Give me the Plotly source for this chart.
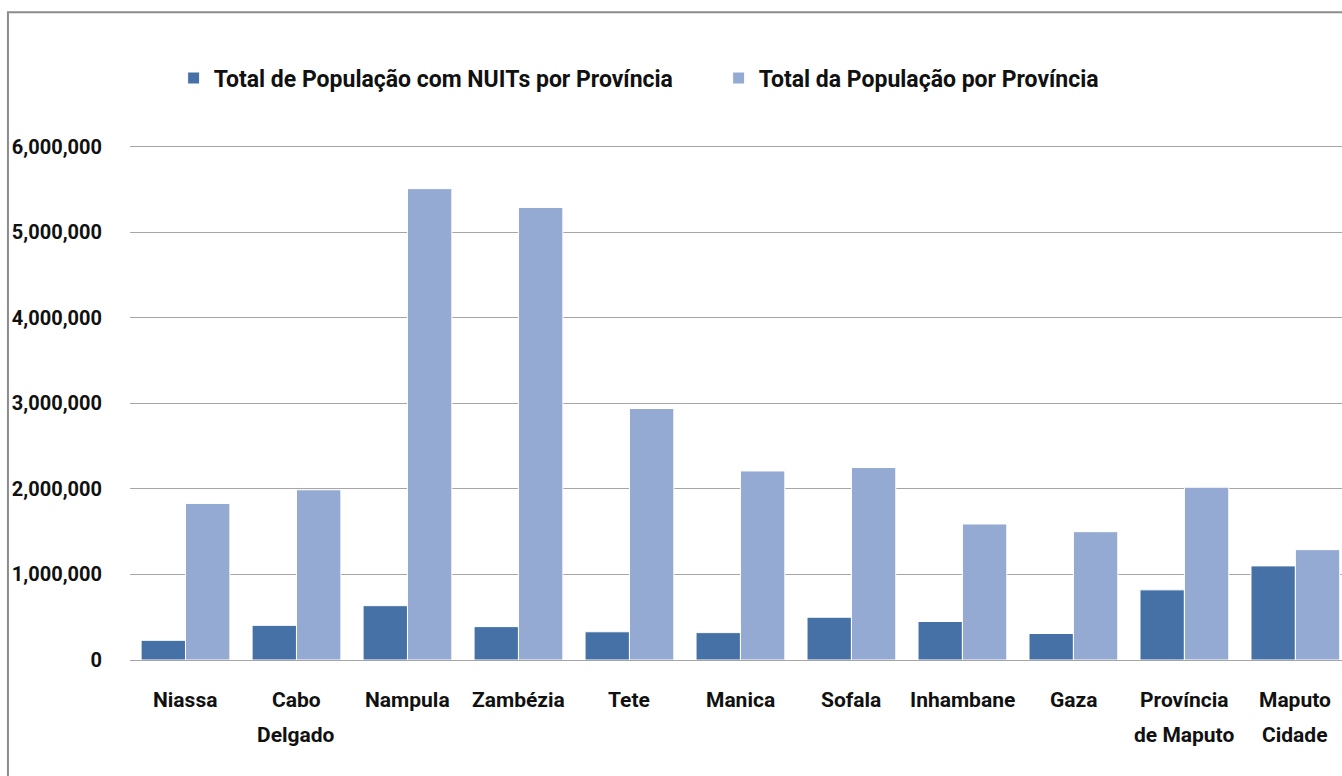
import plotly.graph_objects as go

provinces = ["Niassa", "Cabo<br>Delgado", "Nampula", "Zambézia", "Tete", "Manica",
             "Sofala", "Inhambane", "Gaza", "Província<br>de Maputo", "Maputo<br>Cidade"]
nuit_pop = [230000, 405000, 635000, 390000, 330000, 320000, 500000, 450000, 310000, 820000, 1100000]
total_pop = [1830000, 1990000, 5510000, 5290000, 2940000, 2210000, 2250000, 1590000, 1500000, 2020000, 1290000]
series_names = ["Total de População com NUITs por Província", "Total da População por Província"]
y_ticks = [0, 1000000, 2000000, 3000000, 4000000, 5000000, 6000000]

FONT = "Roboto, Liberation Sans, sans-serif"
DARK = "#4671A7"
LIGHT = "#95AAD2"
TXT = "#111111"

xs = list(range(len(provinces)))
fig = go.Figure()
fig.add_trace(go.Bar(x=xs, y=nuit_pop, name=series_names[0],
                     marker=dict(color=DARK, line=dict(color="white", width=1))))
fig.add_trace(go.Bar(x=xs, y=total_pop, name=series_names[1],
                     marker=dict(color=LIGHT, line=dict(color="white", width=1))))

# category labels, one annotation per line of text
annotations = []
for i, label in enumerate(provinces):
    lines = label.split("<br>")
    for j, line in enumerate(lines):
        annotations.append(dict(x=i, xref="x", y=-0.0777 - 0.068 * j, yref="paper",
                                text=line, showarrow=False, xanchor="center", yanchor="middle",
                                font=dict(family=FONT, size=21, color=TXT, weight="bold")))

fig.update_layout(
    width=1342, height=776,
    margin=dict(l=130, r=0, t=145, b=116),
    paper_bgcolor="white", plot_bgcolor="white",
    barmode="group", bargap=0.2, bargroupgap=0,
    font=dict(family=FONT, size=21, color=TXT),
    legend=dict(orientation="h", x=0.036, y=1.130, xanchor="left", yanchor="middle",
                font=dict(family=FONT, size=23, color=TXT, weight="bold"),
                entrywidth=500, itemwidth=30, traceorder="normal"),
    xaxis=dict(range=[-0.5, 10.42], showticklabels=False, showgrid=False,
               showline=False, ticks="", zeroline=False),
    yaxis=dict(range=[0, 6020000], tickvals=y_ticks, tickformat=",d",
               showgrid=True, gridcolor="#A6A6A6", gridwidth=1,
               zeroline=True, zerolinecolor="#A6A6A6", zerolinewidth=1,
               showline=False, ticks="",
               tickfont=dict(family=FONT, size=20, color=TXT, weight="bold"),
               ticklabelstandoff=27),
    annotations=annotations,
    shapes=[dict(type="rect", xref="paper", yref="paper", x0=-0.1007, x1=1.2,
                 y0=-0.6, y1=1.258, line=dict(color="#8C8C8C", width=2), layer="below")],
)

fig.write_html("out.html", config={"displayModeBar": False},
               post_script="document.body.style.margin='0';")
